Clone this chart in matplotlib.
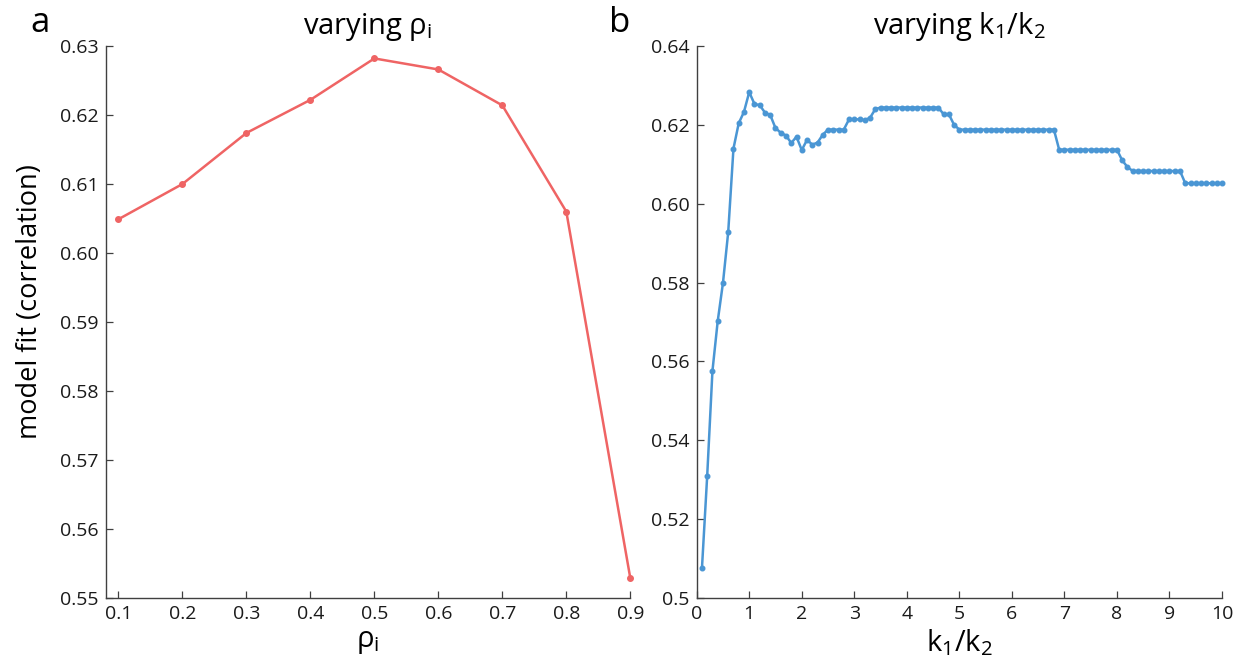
import matplotlib
matplotlib.use("Agg")
import matplotlib.pyplot as plt
from matplotlib import font_manager

# ---- data ----
rho_i = [0.1, 0.2, 0.3, 0.4, 0.5, 0.6, 0.7, 0.8, 0.9]
fit_rho = [0.6049, 0.6100, 0.6174, 0.6222, 0.6282, 0.6266, 0.6214, 0.6060, 0.5529]

k_ratio = [0.1, 0.2, 0.3, 0.4, 0.5, 0.6, 0.7, 0.8, 0.9, 1.0,
           1.1, 1.2, 1.3, 1.4, 1.5, 1.6, 1.7, 1.8, 1.9, 2.0,
           2.1, 2.2, 2.3, 2.4, 2.5, 2.6, 2.7, 2.8, 2.9, 3.0,
           3.1, 3.2, 3.3, 3.4, 3.5, 3.6, 3.7, 3.8, 3.9, 4.0,
           4.1, 4.2, 4.3, 4.4, 4.5, 4.6, 4.7, 4.8, 4.9, 5.0,
           5.1, 5.2, 5.3, 5.4, 5.5, 5.6, 5.7, 5.8, 5.9, 6.0,
           6.1, 6.2, 6.3, 6.4, 6.5, 6.6, 6.7, 6.8, 6.9, 7.0,
           7.1, 7.2, 7.3, 7.4, 7.5, 7.6, 7.7, 7.8, 7.9, 8.0,
           8.1, 8.2, 8.3, 8.4, 8.5, 8.6, 8.7, 8.8, 8.9, 9.0,
           9.1, 9.2, 9.3, 9.4, 9.5, 9.6, 9.7, 9.8, 9.9, 10.0]
fit_k = [0.5075, 0.5310, 0.5576, 0.5702, 0.5799, 0.5928, 0.6140, 0.6204, 0.6233, 0.6283,
         0.6253, 0.6250, 0.6231, 0.6225, 0.6192, 0.6180, 0.6173, 0.6154, 0.6170, 0.6136,
         0.6162, 0.6150, 0.6155, 0.6175, 0.6188, 0.6188, 0.6188, 0.6188, 0.6214, 0.6214,
         0.6214, 0.6212, 0.6218, 0.6240, 0.6244, 0.6244, 0.6244, 0.6244, 0.6244, 0.6244,
         0.6244, 0.6244, 0.6244, 0.6244, 0.6244, 0.6244, 0.6227, 0.6227, 0.6200, 0.6188,
         0.6188, 0.6188, 0.6188, 0.6188, 0.6188, 0.6188, 0.6188, 0.6188, 0.6188, 0.6188,
         0.6188, 0.6188, 0.6188, 0.6188, 0.6188, 0.6188, 0.6188, 0.6188, 0.6137, 0.6137,
         0.6137, 0.6137, 0.6137, 0.6137, 0.6137, 0.6137, 0.6137, 0.6137, 0.6137, 0.6137,
         0.6110, 0.6093, 0.6083, 0.6083, 0.6083, 0.6083, 0.6083, 0.6083, 0.6083, 0.6083,
         0.6083, 0.6083, 0.6052, 0.6052, 0.6052, 0.6052, 0.6052, 0.6052, 0.6052, 0.6052]

ticks_rho_x = [0.1, 0.2, 0.3, 0.4, 0.5, 0.6, 0.7, 0.8, 0.9]
ticks_rho_y = [0.55, 0.56, 0.57, 0.58, 0.59, 0.60, 0.61, 0.62, 0.63]
ticklabels_rho_y = ["0.55", "0.56", "0.57", "0.58", "0.59", "0.60", "0.61", "0.62", "0.63"]
ticks_k_x = [0, 1, 2, 3, 4, 5, 6, 7, 8, 9, 10]
ticks_k_y = [0.50, 0.52, 0.54, 0.56, 0.58, 0.60, 0.62, 0.64]
ticklabels_k_y = ["0.5", "0.52", "0.54", "0.56", "0.58", "0.60", "0.62", "0.64"]

# ---- style ----
available = {f.name for f in font_manager.fontManager.ttflist}
main_font = "Open Sans" if "Open Sans" in available else "DejaVu Sans"

plt.rcParams['font.family'] = [main_font, 'DejaVu Sans']
plt.rcParams['mathtext.fontset'] = 'custom'
plt.rcParams['mathtext.rm'] = main_font
plt.rcParams['mathtext.it'] = main_font
plt.rcParams['mathtext.default'] = 'regular'

red = '#ef6464'
blue = '#4a96d4'
axcol = '#404040'

W, H = 1239, 666
fig = plt.figure(figsize=(W / 100, H / 100), dpi=100)
axA = fig.add_axes([0.0853, 0.1021, 0.4234, 0.8288])
axB = fig.add_axes([0.5623, 0.1021, 0.4240, 0.8288])

axA.plot(rho_i, fit_rho, color=red, lw=1.8, marker='o', ms=4, mec=red, mfc=red,
         clip_on=False, zorder=3)
axB.plot(k_ratio, fit_k, color=blue, lw=1.8, marker='o', ms=3.3, mec=blue, mfc=blue,
         clip_on=False, zorder=3)

axA.set_xlim(0.08, 0.9)
axA.set_ylim(0.55, 0.63)
axA.set_xticks(ticks_rho_x)
axA.set_xticklabels([f"{t:.1f}" for t in ticks_rho_x])
axA.set_yticks(ticks_rho_y)
axA.set_yticklabels(ticklabels_rho_y)

axB.set_xlim(0, 10)
axB.set_ylim(0.50, 0.64)
axB.set_xticks(ticks_k_x)
axB.set_xticklabels([str(t) for t in ticks_k_x])
axB.set_yticks(ticks_k_y)
axB.set_yticklabels(ticklabels_k_y)

for ax in (axA, axB):
    for s in ('top', 'right'):
        ax.spines[s].set_visible(False)
    for s in ('left', 'bottom'):
        ax.spines[s].set_color(axcol)
        ax.spines[s].set_linewidth(1.0)
    ax.tick_params(direction='in', length=5, width=0.9, color=axcol,
                   labelsize=14, labelcolor='#1a1a1a', pad=5)

axA.set_title(r'varying $\rho_i$', fontsize=21, pad=9)
axB.set_title(r'varying $k_1/k_2$', fontsize=21, pad=9)
axA.set_xlabel(r'$\rho_i$', fontsize=21, labelpad=3)
axB.set_xlabel(r'$k_1/k_2$', fontsize=21, labelpad=3)

fig.text(30 / W, 1 - 302 / H, 'model fit (correlation)', fontsize=19.5,
         rotation=90, ha='center', va='center')

fig.text(40 / W, 1 - 23 / H, 'a', fontsize=25, ha='center', va='center')
fig.text(620 / W, 1 - 23 / H, 'b', fontsize=25, ha='center', va='center')

fig.savefig('out.png', dpi=100)
